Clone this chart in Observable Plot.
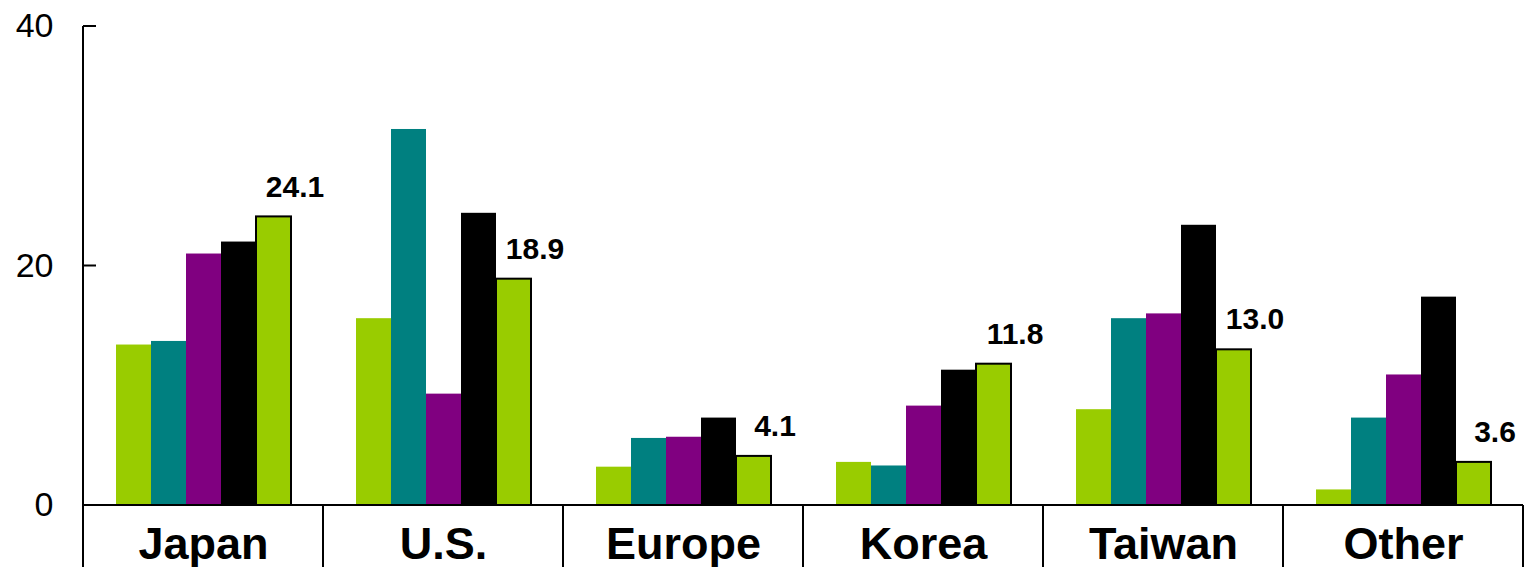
<!DOCTYPE html>
<html><head><meta charset="utf-8">
<script src="https://cdn.jsdelivr.net/npm/d3@7"></script>
<script src="https://cdn.jsdelivr.net/npm/@observablehq/plot@0.6"></script>
<style>body{margin:0;background:#fff} svg{display:block}</style>
</head><body><div id="chart"></div>
<script>
const categories = ["Japan", "U.S.", "Europe", "Korea", "Taiwan", "Other"];
const seriesNames = ["Series 1", "Series 2", "Series 3", "Series 4", "Series 5"];
const series1 = [13.4, 15.6, 3.2, 3.6, 8.0, 1.3];
const series2 = [13.7, 31.4, 5.6, 3.3, 15.6, 7.3];
const series3 = [21.0, 9.3, 5.7, 8.3, 16.0, 10.9];
const series4 = [22.0, 24.4, 7.3, 11.3, 23.4, 17.4];
const series5 = [24.1, 18.9, 4.1, 11.8, 13.0, 3.6];
const seriesColors = ["#99cc00", "#008080", "#800080", "#000000", "#99cc00"];
const yTicks = [0, 20, 40];

const allSeries = [series1, series2, series3, series4, series5];
const data = [];
categories.forEach((c, i) => allSeries.forEach((s, j) => data.push({category: c, series: seriesNames[j], value: s[i]})));
const lastName = seriesNames[seriesNames.length - 1];
const FONT = "'Liberation Sans', Arial, Helvetica, sans-serif";

let facetCount = 0;
function frameLines(index, scales, values, dims) {
  const first = facetCount++ === 0;
  const g = d3.create("svg:g").attr("stroke", "#000").attr("stroke-width", 2).attr("fill", "none");
  const x0 = dims.marginLeft, x1 = dims.width - dims.marginRight;
  const y0 = scales.y(0), yb = dims.height;
  g.append("line").attr("x1", x0).attr("x2", x1).attr("y1", y0).attr("y2", y0);
  g.append("line").attr("x1", x0).attr("x2", x0).attr("y1", y0).attr("y2", yb);
  g.append("line").attr("x1", x1).attr("x2", x1).attr("y1", y0).attr("y2", yb);
  if (first) {
    g.append("line").attr("x1", x0).attr("x2", x0).attr("y1", scales.y(yTicks[yTicks.length - 1])).attr("y2", yb);
    for (const t of yTicks) g.append("line").attr("x1", x0).attr("x2", x0 + 13).attr("y1", scales.y(t)).attr("y2", scales.y(t));
  }
  return g.node();
}

const chart = Plot.plot({
  width: 1533, height: 567,
  marginLeft: 82, marginRight: 9, marginTop: 26, marginBottom: 62,
  style: {fontFamily: FONT, background: "#fff", color: "#000"},
  fx: {domain: categories, padding: 0, label: null},
  x: {domain: seriesNames, axis: null, paddingInner: 0, paddingOuter: 0.9},
  y: {domain: [0, 40], label: null},
  color: {domain: seriesNames, range: seriesColors},
  marks: [
    Plot.barY(data.filter(d => d.series !== lastName), {fx: "category", x: "series", y: "value", fill: "series", inset: 0}),
    Plot.barY(data.filter(d => d.series === lastName), {fx: "category", x: "series", y: "value", fill: "series", stroke: "#000", strokeWidth: 2, inset: 0}),
    Plot.text(data.filter(d => d.series === lastName), {fx: "category", x: "series", y: "value", text: d => d.value.toFixed(1), dx: 21, dy: -30, fontSize: 30, fontWeight: "bold", fill: "#000", lineAnchor: "middle"}),
    frameLines,
    Plot.axisY({ticks: yTicks, tickSize: 0, tickPadding: 30, fontSize: 34, label: null, fill: "#000"}),
    Plot.axisFx({anchor: "bottom", tickSize: 0, tickPadding: 22, fontSize: 45, fontWeight: "bold", label: null, fill: "#000"})
  ]
});
document.getElementById("chart").appendChild(chart);
</script>
</body></html>
